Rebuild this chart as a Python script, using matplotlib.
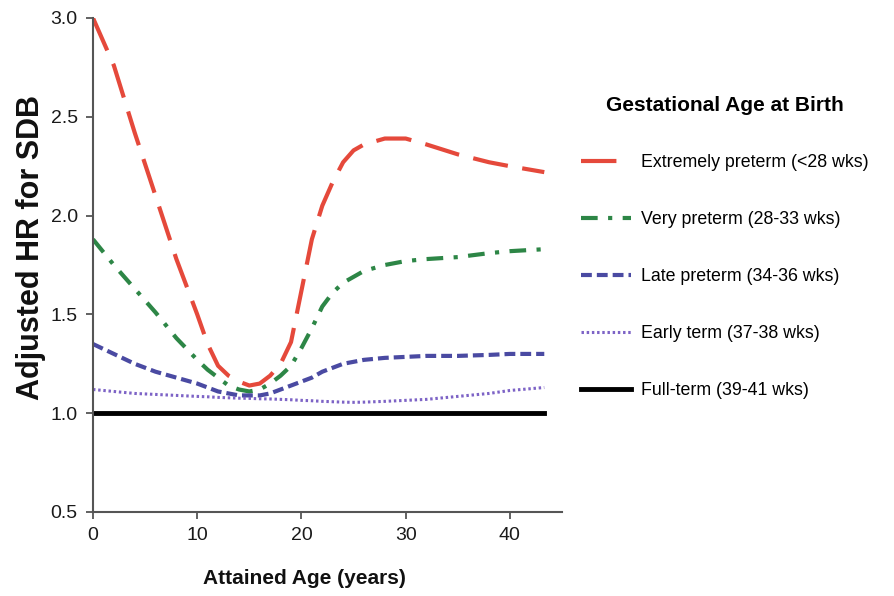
import matplotlib
matplotlib.use("Agg")
import matplotlib.pyplot as plt

# values
ages = [0, 2, 4, 6, 8, 10, 11, 12, 13, 14, 15, 16, 17, 18, 19, 20, 21, 22,
        23, 24, 25, 26, 28, 30, 32, 35, 38, 40, 43.3]
extremely = [3.00, 2.76, 2.42, 2.10, 1.78, 1.50, 1.35, 1.24, 1.19, 1.16, 1.14,
             1.15, 1.19, 1.25, 1.36, 1.62, 1.88, 2.05, 2.17, 2.27, 2.33, 2.36,
             2.39, 2.39, 2.36, 2.31, 2.27, 2.25, 2.22]
very = [1.88, 1.75, 1.63, 1.51, 1.38, 1.27, 1.22, 1.18, 1.14, 1.12, 1.11,
        1.12, 1.15, 1.19, 1.24, 1.33, 1.43, 1.54, 1.61, 1.66, 1.69, 1.72,
        1.75, 1.77, 1.78, 1.79, 1.81, 1.82, 1.83]
late = [1.35, 1.30, 1.25, 1.21, 1.18, 1.15, 1.13, 1.11, 1.10, 1.09, 1.09,
        1.09, 1.10, 1.12, 1.14, 1.16, 1.18, 1.21, 1.23, 1.25, 1.26, 1.27,
        1.28, 1.285, 1.29, 1.29, 1.295, 1.30, 1.30]
early = [1.12, 1.11, 1.10, 1.095, 1.09, 1.085, 1.083, 1.08, 1.078, 1.076,
         1.075, 1.073, 1.072, 1.07, 1.068, 1.065, 1.063, 1.06, 1.058, 1.056,
         1.055, 1.056, 1.06, 1.065, 1.07, 1.085, 1.10, 1.115, 1.13]
full = [1.0] * len(ages)

labels = ["Extremely preterm (<28 wks)", "Very preterm (28-33 wks)",
          "Late preterm (34-36 wks)", "Early term (37-38 wks)",
          "Full-term (39-41 wks)"]

FONT = ["Liberation Sans", "DejaVu Sans"]
plt.rcParams["font.family"] = FONT

fig = plt.figure(figsize=(8.95, 5.96), dpi=100)
ax = fig.add_axes([93 / 895, 1 - 512 / 596, (562 - 93) / 895, (512 - 18) / 596])

ax.plot(ages, extremely, color="#e5493b", lw=3, dashes=(8.5, 3.5),
        label=labels[0])
ax.plot(ages, very, color="#2d8646", lw=3, dashes=(4, 2.5, 1, 2.5),
        label=labels[1])
ax.plot(ages, late, color="#4a4aa2", lw=3, dashes=(2.6, 1.2),
        label=labels[2])
ax.plot(ages, early, color="#7d63c6", lw=2.2, dashes=(0.8, 0.9),
        label=labels[3])
ax.plot(ages, full, color="black", lw=3.5, label=labels[4])

ax.set_xlim(0, 45)
ax.set_ylim(0.5, 3.0)
ax.set_xticks([0, 10, 20, 30, 40])
ax.set_yticks([0.5, 1.0, 1.5, 2.0, 2.5, 3.0])
ax.set_yticklabels(["0.5", "1.0", "1.5", "2.0", "2.5", "3.0"])
for side in ("top", "right"):
    ax.spines[side].set_visible(False)
for side in ("left", "bottom"):
    ax.spines[side].set_color("#555555")
    ax.spines[side].set_linewidth(1.5)
ax.tick_params(length=5, width=1.3, color="#555555", labelsize=14,
               labelcolor="#1a1a1a", pad=6)

ax.set_xlabel("Attained Age (years)", fontsize=15, fontweight="bold",
              color="#111111")
ax.xaxis.set_label_coords(0.45, -0.115)
ax.set_ylabel("Adjusted HR for SDB", fontsize=22, fontweight="bold",
              color="#111111")
ax.yaxis.set_label_coords(-0.10, 0.536)

leg = fig.legend(loc="upper left", bbox_to_anchor=(565 / 895, 1 - 80 / 596),
                 frameon=False, fontsize=12.8, handlelength=2.8,
                 handletextpad=0.55, labelspacing=2.25,
                 title="Gestational Age at Birth",
                 title_fontproperties={"size": 15, "weight": "bold",
                                       "family": FONT})
leg._legend_box.sep = 28

fig.savefig("out.png", dpi=100)
